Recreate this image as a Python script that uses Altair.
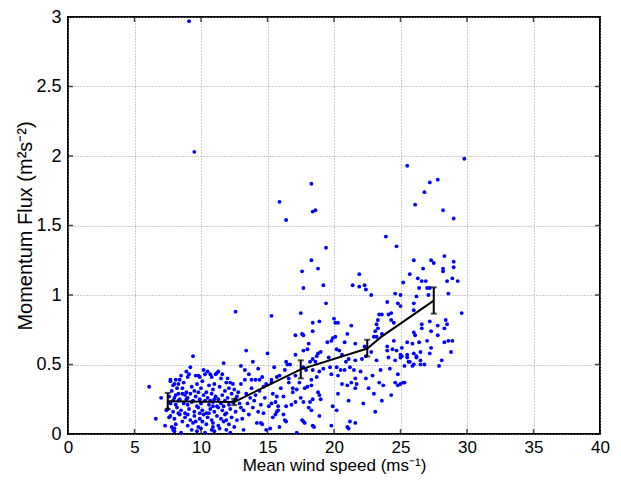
import altair as alt
import pandas as pd

# ---- scatter values (wind speed, momentum flux) ----
pts_low = [
    (9.1, 2.97), (9.5, 2.03), (12.6, 0.88),
    (6.1, 0.34), (6.6, 0.11), (7.0, 0.26), (7.3, 0.06), (7.4, 0.17), (7.6, 0.12),
    (7.7, 0.39), (7.9, 0.35), (8.0, 0.36), (7.9, 0.03), (8.0, 0.02), (8.2, 0.33),
    (8.3, 0.29), (8.1, 0.28), (8.4, 0.39), (8.5, 0.42), (9.1, 0.43), (9.2, 0.48),
    (9.4, 0.56), (9.6, 0.42), (9.9, 0.41), (9.7, 0.36), (10.2, 0.46), (10.3, 0.43),
    (10.5, 0.45), (10.7, 0.43), (10.8, 0.41), (11.1, 0.43), (11.3, 0.45), (11.6, 0.43),
    (11.7, 0.51), (12.0, 0.40), (12.2, 0.37), (12.4, 0.36), (12.8, 0.30), (9.0, 0.41),
    (8.9, 0.45), (9.8, 0.42), (11.2, 0.44), (11.5, 0.40), (7.7, 0.38), (8.1, 0.39),
    (8.3, 0.36),
    (7.8, 0.31), (8.6, 0.33), (8.9, 0.30), (9.3, 0.34), (9.5, 0.31), (10.0, 0.33),
    (10.4, 0.30), (10.6, 0.35), (10.9, 0.32), (11.4, 0.34), (11.8, 0.31), (12.1, 0.33),
    (12.5, 0.32), (9.8, 0.30), (11.0, 0.36), (8.7, 0.37), (10.1, 0.38), (11.9, 0.37),
    (7.6, 0.27), (8.0, 0.26), (8.4, 0.25), (8.8, 0.28), (9.0, 0.26), (9.2, 0.29),
    (9.6, 0.27), (9.9, 0.25), (10.2, 0.28), (10.5, 0.26), (10.8, 0.29), (11.1, 0.27),
    (11.3, 0.25), (11.6, 0.28), (12.0, 0.26), (12.3, 0.29), (12.7, 0.27), (9.4, 0.24),
    (10.7, 0.24), (8.6, 0.29),
    (7.7, 0.22), (8.1, 0.21), (8.3, 0.24), (8.7, 0.22), (9.0, 0.21), (9.3, 0.23),
    (9.7, 0.20), (10.0, 0.22), (10.3, 0.24), (10.6, 0.21), (10.9, 0.23), (11.2, 0.20),
    (11.5, 0.22), (11.8, 0.24), (12.1, 0.21), (12.4, 0.23), (12.9, 0.22), (7.9, 0.24),
    (8.9, 0.25), (11.0, 0.25), (11.7, 0.20), (12.6, 0.25),
    (7.5, 0.18), (7.9, 0.16), (8.2, 0.19), (8.5, 0.17), (8.8, 0.15), (9.1, 0.18),
    (9.5, 0.16), (9.8, 0.19), (10.1, 0.17), (10.4, 0.15), (10.7, 0.18), (11.0, 0.16),
    (11.3, 0.19), (11.6, 0.17), (11.9, 0.15), (12.2, 0.18), (12.6, 0.16), (13.0, 0.19),
    (8.3, 0.15), (9.9, 0.15), (10.9, 0.20),
    (7.7, 0.13), (8.0, 0.11), (8.4, 0.14), (8.8, 0.12), (9.2, 0.10), (9.5, 0.13),
    (9.9, 0.11), (10.2, 0.14), (10.5, 0.12), (10.8, 0.10), (11.2, 0.13), (11.5, 0.11),
    (11.8, 0.14), (12.3, 0.12), (12.7, 0.10), (9.0, 0.14), (10.6, 0.15), (11.9, 0.10),
    (8.1, 0.07), (8.6, 0.09), (9.0, 0.06), (9.4, 0.08), (9.8, 0.05), (10.1, 0.09),
    (10.4, 0.07), (10.9, 0.08), (11.3, 0.06), (11.7, 0.09), (12.1, 0.07), (12.5, 0.05),
    (9.6, 0.09),
    (8.0, 0.04), (8.5, 0.01), (9.3, 0.03), (9.7, 0.02), (10.0, 0.04), (10.3, 0.01),
    (10.8, 0.03), (11.0, 0.02), (11.4, 0.04), (11.9, 0.03), (12.2, 0.01), (7.8, 0.05),
    (10.9, 0.05),
]

pts_mid = [
    (15.9, 1.67), (16.4, 1.54), (15.3, 0.85),
    (13.4, 0.60), (13.0, 0.49), (13.9, 0.52), (15.0, 0.58), (16.4, 0.52), (13.0, 0.36),
    (13.3, 0.39), (13.6, 0.43), (13.8, 0.39), (13.4, 0.29), (13.7, 0.26), (14.1, 0.28),
    (14.4, 0.31), (14.7, 0.34), (14.9, 0.36), (15.3, 0.39), (15.7, 0.41), (15.9, 0.42),
    (16.3, 0.46), (13.3, 0.46), (14.1, 0.39), (14.4, 0.39), (14.6, 0.41), (15.3, 0.37),
    (13.2, 0.17), (13.6, 0.14), (13.9, 0.19), (14.3, 0.16), (14.7, 0.15), (15.1, 0.20),
    (15.4, 0.12), (15.8, 0.17), (16.2, 0.14), (16.4, 0.20), (13.2, 0.03), (14.9, 0.03),
    (16.3, 0.10), (14.2, 0.08), (15.4, 0.29), (15.7, 0.27), (16.2, 0.27), (15.3, 0.22),
    (15.6, 0.23), (15.8, 0.20), (15.7, 0.16), (15.6, 0.14), (16.5, 0.50), (16.7, 0.50),
    (16.8, 0.21), (13.5, 0.22), (14.0, 0.24), (14.5, 0.21), (14.8, 0.26), (13.8, 0.33),
    (14.3, 0.47), (15.5, 0.48), (16.0, 0.33), (16.6, 0.37), (16.9, 0.30), (13.1, 0.11),
    (14.6, 0.07), (15.9, 0.05), (16.6, 0.40), (14.5, 0.08), (15.2, 0.04), (16.4, 0.09),
]

pts_upper_mid = [
    (18.3, 1.80), (18.4, 1.60), (18.6, 1.61), (19.4, 1.34), (18.3, 1.25), (17.6, 1.17),
    (18.8, 1.19), (17.7, 1.05), (19.2, 1.07), (21.4, 1.07), (21.9, 1.06), (21.9, 1.15),
    (19.4, 0.94), (17.5, 0.87), (18.4, 0.80), (18.9, 0.81), (20.0, 0.83), (20.1, 0.80),
    (20.3, 0.80), (18.4, 0.74), (17.1, 0.71), (17.6, 0.72), (17.7, 0.71), (19.9, 0.69),
    (20.1, 0.70), (19.8, 0.67), (19.5, 0.66), (18.1, 0.65), (18.0, 0.61), (17.7, 0.60),
    (17.1, 0.57), (19.0, 0.59), (18.8, 0.58), (18.7, 0.56), (18.4, 0.54), (18.2, 0.52),
    (18.6, 0.52), (17.7, 0.48), (17.9, 0.46), (18.4, 0.46), (18.9, 0.45), (19.2, 0.47),
    (18.7, 0.41), (18.3, 0.39), (17.1, 0.42), (17.4, 0.37), (18.0, 0.34), (18.3, 0.35),
    (17.8, 0.33), (16.9, 0.33), (17.2, 0.32), (18.8, 0.30), (18.9, 0.28), (19.0, 0.25),
    (18.4, 0.25), (18.2, 0.23), (17.5, 0.26), (17.7, 0.23), (17.1, 0.23), (18.1, 0.19),
    (18.3, 0.17), (18.9, 0.13), (17.6, 0.10), (17.8, 0.08), (18.4, 0.06), (19.7, 0.48),
    (20.2, 0.48), (20.5, 0.46), (20.8, 0.46), (21.2, 0.48), (21.5, 0.46), (19.8, 0.43),
    (20.3, 0.42), (21.0, 0.35), (20.6, 0.36), (21.3, 0.37), (20.3, 0.29), (21.1, 0.24),
    (19.9, 0.20), (20.2, 0.17), (21.0, 0.05), (19.8, 0.06), (21.2, 0.09), (21.6, 0.53),
    (21.1, 0.54), (20.6, 0.57), (20.2, 0.61), (20.4, 0.60), (21.0, 0.72), (21.6, 0.65),
    (20.8, 0.66), (21.3, 0.78), (19.6, 0.55), (20.9, 0.52), (17.2, 0.01), (21.1, 0.04),
    (21.6, 0.08), (17.7, 0.09), (18.5, 0.05),
]

pts_high = [
    (22.3, 1.07), (22.4, 1.04), (22.8, 1.00), (25.5, 1.93), (29.8, 1.98), (27.2, 1.81),
    (27.8, 1.83), (26.8, 1.74), (26.1, 1.65), (28.2, 1.61), (29.0, 1.55), (23.9, 1.42),
    (24.7, 1.35), (26.0, 1.25), (27.3, 1.25), (27.5, 1.23), (28.3, 1.28), (29.0, 1.24),
    (29.0, 1.20), (26.7, 1.19), (28.2, 1.19), (28.2, 1.17), (25.7, 1.15), (26.3, 1.12),
    (26.6, 1.10), (26.9, 1.10), (28.9, 1.12), (29.3, 1.10), (28.5, 1.10), (25.2, 1.09),
    (27.0, 1.05), (27.2, 1.05), (26.4, 1.05), (27.1, 1.00), (28.6, 1.01), (26.2, 0.99),
    (25.0, 1.00), (24.6, 1.01),
    (29.6, 0.87), (26.0, 0.94), (26.0, 0.89), (25.0, 0.92), (28.4, 0.82), (28.5, 0.79),
    (27.2, 0.81), (26.6, 0.79), (26.6, 0.76), (28.3, 0.76), (27.3, 0.74), (26.0, 0.73),
    (26.1, 0.71), (27.8, 0.71), (28.6, 0.67), (28.9, 0.67), (28.3, 0.66), (27.0, 0.67),
    (26.4, 0.66), (25.9, 0.65), (25.5, 0.66), (25.1, 0.62), (27.3, 0.62), (27.2, 0.58),
    (28.8, 0.59), (25.0, 0.57), (25.1, 0.56), (25.5, 0.57), (26.2, 0.56), (26.5, 0.53),
    (25.6, 0.52), (25.3, 0.49), (25.9, 0.49), (26.5, 0.50), (27.9, 0.49), (28.1, 0.53),
    (25.2, 0.37),
    (24.0, 0.95), (24.8, 0.94), (24.3, 0.87), (24.1, 0.86), (23.6, 0.86), (23.4, 0.86),
    (23.3, 0.82), (23.2, 0.79), (24.3, 0.82), (24.5, 0.80), (23.3, 0.76), (23.1, 0.74),
    (23.0, 0.70), (23.2, 0.70), (23.6, 0.72), (24.5, 0.67), (24.0, 0.63), (24.0, 0.60),
    (24.4, 0.61), (24.7, 0.60), (24.1, 0.55), (24.6, 0.53), (25.0, 0.55), (25.5, 0.55),
    (25.7, 0.52), (22.3, 0.63), (22.1, 0.54), (22.4, 0.56), (22.8, 0.59), (23.2, 0.53),
    (24.2, 0.47), (24.8, 0.43), (21.6, 0.40), (21.7, 0.36), (21.6, 0.33), (22.4, 0.40),
    (23.4, 0.37), (23.7, 0.35), (24.6, 0.37), (24.8, 0.35), (25.0, 0.36), (25.3, 0.37),
    (23.0, 0.29), (24.3, 0.28), (23.6, 0.24), (23.1, 0.16), (27.8, 0.78), (26.5, 0.59),
    (26.8, 0.50), (26.0, 0.58), (26.2, 0.55), (26.0, 0.50), (22.0, 0.45), (22.6, 0.33),
    (22.2, 0.22), (22.9, 0.42), (23.5, 0.46),
]

# ---- binned mean curve and error bars ----
line_speed = [7.5, 12.5, 17.5, 22.5, 23.5, 27.5]
line_flux = [0.236, 0.231, 0.465, 0.615, 0.695, 0.96]
bar_speed = [7.5, 12.5, 17.5, 22.5, 27.5]
bar_lo = [0.179, 0.208, 0.40, 0.558, 0.866]
bar_hi = [0.296, 0.253, 0.53, 0.678, 1.055]

x_ticks = [0, 5, 10, 15, 20, 25, 30, 35, 40]
y_ticks = [0, 0.5, 1, 1.5, 2, 2.5, 3]

scatter_df = pd.DataFrame(pts_low + pts_mid + pts_upper_mid + pts_high,
                          columns=["speed", "flux"])
line_df = pd.DataFrame({"speed": line_speed, "flux": line_flux})
bar_df = pd.DataFrame({"speed": bar_speed, "lo": bar_lo, "hi": bar_hi})
xt_df = pd.DataFrame({"speed": x_ticks})
yt_df = pd.DataFrame({"flux": y_ticks})

X_TITLE = "Mean wind speed (ms⁻¹)"
Y_TITLE = "Momentum Flux (m²s⁻²)"
xs = alt.Scale(domain=[0, 40], nice=False, zero=False)
ys = alt.Scale(domain=[0, 3], nice=False, zero=False)
x_axis = alt.Axis(values=x_ticks, format="~g", labelFlush=False, grid=True)
y_axis = alt.Axis(values=y_ticks, format="~g", grid=True)


def X(field):
    return alt.X(field, scale=xs, axis=x_axis, title=X_TITLE)


def Y(field):
    return alt.Y(field, scale=ys, axis=y_axis, title=Y_TITLE)


scatter = alt.Chart(scatter_df).mark_point(
    filled=True, shape="circle", size=15, color="#0000ff", opacity=1
).encode(x=X("speed:Q"), y=Y("flux:Q"))

line = alt.Chart(line_df).mark_line(color="black", strokeWidth=2).encode(
    x=X("speed:Q"), y=Y("flux:Q"))

bars = alt.Chart(bar_df).mark_rule(color="black", strokeWidth=2).encode(
    x=X("speed:Q"), y=Y("lo:Q"), y2="hi:Q")
cap_lo = alt.Chart(bar_df).mark_tick(orient="horizontal", color="black", size=6,
                                      thickness=2).encode(x=X("speed:Q"), y=Y("lo:Q"))
cap_hi = alt.Chart(bar_df).mark_tick(orient="horizontal", color="black", size=6,
                                      thickness=2).encode(x=X("speed:Q"), y=Y("hi:Q"))

# inward tick marks on all four sides
tick_style = dict(color="black", size=5, thickness=1.5)
t_bottom = alt.Chart(xt_df).mark_tick(orient="vertical", yOffset=-2.5, **tick_style).encode(
    x=X("speed:Q"), y=alt.datum(0))
t_top = alt.Chart(xt_df).mark_tick(orient="vertical", yOffset=2.5, **tick_style).encode(
    x=X("speed:Q"), y=alt.datum(3))
t_left = alt.Chart(yt_df).mark_tick(orient="horizontal", xOffset=2.5, **tick_style).encode(
    y=Y("flux:Q"), x=alt.datum(0))
t_right = alt.Chart(yt_df).mark_tick(orient="horizontal", xOffset=-2.5, **tick_style).encode(
    y=Y("flux:Q"), x=alt.datum(40))

chart = alt.layer(
    scatter, line, bars, cap_lo, cap_hi, t_bottom, t_top, t_left, t_right
).properties(
    width=532, height=417, autosize="none",
    padding={"left": 60, "top": 9, "right": 13, "bottom": 42},
).configure_view(
    stroke="black", strokeWidth=2
).configure_axis(
    domain=False, ticks=False, tickSize=0,
    labelFont="Liberation Sans", labelColor="black",
    titleFont="Liberation Sans", titleFontWeight="normal", titleColor="black",
    gridColor="#999999", gridDash=[1, 2], gridWidth=1, gridOpacity=1,
).configure_axisX(
    labelFontSize=17, labelPadding=5, titlePadding=2, titleFontSize=17
).configure_axisY(
    labelFontSize=18, labelPadding=7, titlePadding=0, titleFontSize=20
)

chart.save("out.html", embed_options={"renderer": "svg", "actions": False})
